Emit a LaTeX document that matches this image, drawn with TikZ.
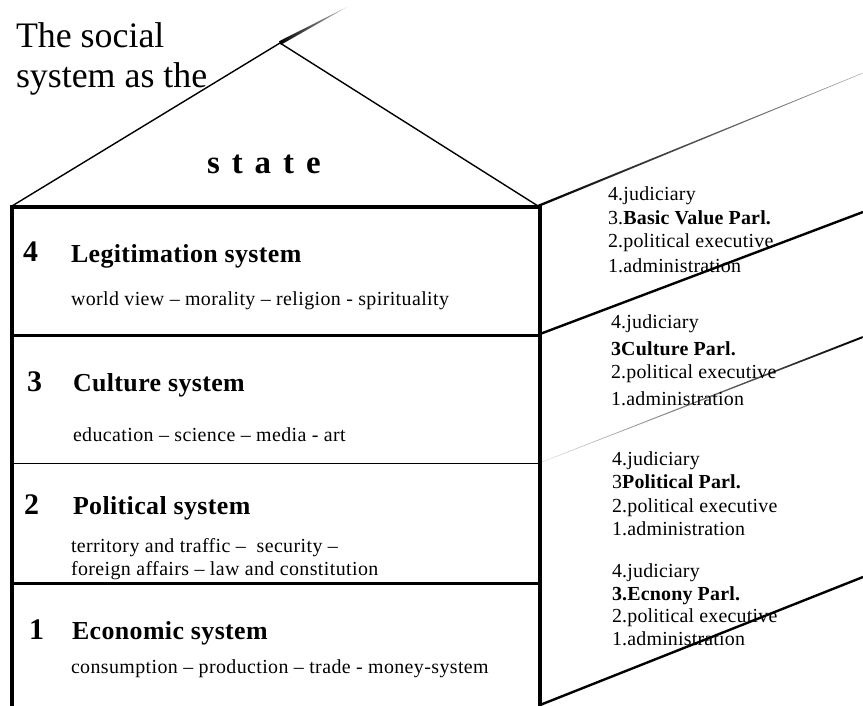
\documentclass[tikz,border=0pt]{standalone}
\usepackage{fontspec}
\setmainfont{Liberation Serif}
\newfontfamily\lsA[LetterSpace=1.5]{Liberation Serif}
\newfontfamily\lsB[LetterSpace=2]{Liberation Serif}
\newfontfamily\lsC[LetterSpace=1]{Liberation Serif}
\begin{document}
\begin{tikzpicture}[x=1bp,y=-1bp,
  every node/.style={inner sep=0pt,outer sep=0pt,anchor=base west},
  titletext/.style={font=\fontsize{36}{40}\selectfont},
  statetext/.style={font=\fontsize{33}{36}\selectfont\bfseries},
  numtext/.style={font=\fontsize{30}{32}\selectfont\bfseries},
  headtext/.style={font=\lsA\fontsize{26}{30}\selectfont\bfseries},
  subtext/.style={font=\lsB\fontsize{20}{22}\selectfont},
  sidetext/.style={font=\lsC\fontsize{20}{22}\selectfont},
  roofline/.style={line width=1.4bp},
  wall/.style={line width=3.5bp,line join=miter},
  heavysep/.style={line width=3bp},
  lightsep/.style={line width=1bp},
  slant/.style={line width=2.4bp}
]
\useasboundingbox (0,0) rectangle (863,706);
% named points
\coordinate (BL) at (12,707);
\coordinate (TL) at (12,207);
\coordinate (TR) at (540,207);
\coordinate (BR) at (540,707);
\coordinate (peak) at (280,43);
\coordinate (eaveL) at (12,206);
\coordinate (eaveR) at (538,206);

% title
\node[titletext] (t1) at (16,48) {The social};
\node[titletext] (t2) at (16,88) {system as the};
\node[statetext] (state) at (207,173) {\spaceskip=12bp\relax s t a t e};

% roof
\draw[roofline] (eaveL) -- (peak) -- (eaveR);
\shade[left color=black,middle color=black,right color=black!25] (280.95,44.76) -- (279.05,41.24) -- (347,7) -- cycle;
\shade[left color=black,middle color=black,right color=black!35] (538.45,207.11) -- (537.55,204.89) -- (862.9,72.8) -- (863.1,73.2) -- cycle;

% box
\draw[wall] (BL) -- (TL) -- (TR) -- (BR);
\coordinate (s43L) at (12,335); \coordinate (s43R) at (540,335);
\coordinate (s32L) at (12,463); \coordinate (s32R) at (540,463);
\coordinate (s21L) at (12,583); \coordinate (s21R) at (540,583);
\draw[heavysep] (s43L) -- (s43R);
\draw[lightsep] (s32L) -- (s32R);
\draw[heavysep] (s21L) -- (s21R);

% right slanted lines
\coordinate (r43a) at (540,334); \coordinate (r43b) at (863,212);
\coordinate (rba) at (540,705); \coordinate (rbb) at (863,577);
\draw[slant] (r43a) -- (r43b);
\draw[slant] (rba) -- (rbb);
\shade[left color=black!15,middle color=black!80,right color=black] (542.07,462.19) -- (541.93,461.81) -- (862.64,336.07) -- (863.36,337.93) -- cycle;

% level 4
\node[numtext] (n4) at (23,261) {4};
\node[headtext] (h4) at (71,262) {Legitimation system};
\node[subtext] (d4) at (71,305) {world view – morality – religion - spirituality};
% level 3
\node[numtext] (n3) at (27,391) {3};
\node[headtext] (h3) at (73,391) {Culture system};
\node[subtext] (d3) at (73,441) {education – science – media - art};
% level 2
\node[numtext] (n2) at (24,514) {2};
\node[headtext] (h2) at (73,514) {Political system};
\node[subtext] (d2a) at (71,552) {territory and traffic –\ \ security –};
\node[subtext] (d2b) at (71,575) {foreign affairs – law and constitution};
% level 1
\node[numtext] (n1) at (29,639) {1};
\node[headtext] (h1) at (72,639) {Economic system};
\node[subtext] (d1) at (71,673) {consumption – production – trade - money-system};

% right blocks
\node[sidetext] (a4) at (608,200) {4.judiciary};
\node[sidetext] (a3) at (608,224) {3.\textbf{Basic Value Parl.}};
\node[sidetext] (a2) at (608,247) {2.political executive};
\node[sidetext] (a1) at (608,272) {1.administration};

\node[sidetext] (b4) at (611,328) {4.judiciary};
\node[sidetext] (b3) at (611,355) {\textbf{3Culture Parl.}};
\node[sidetext] (b2) at (611,378) {2.political executive};
\node[sidetext] (b1) at (611,405) {1.administration};

\node[sidetext] (c4) at (612,465) {4.judiciary};
\node[sidetext] (c3) at (612,488) {3\textbf{Political Parl.}};
\node[sidetext] (c2) at (612,512) {2.political executive};
\node[sidetext] (c1) at (612,535) {1.administration};

\node[sidetext] (e4) at (612,577) {4.judiciary};
\node[sidetext] (e3) at (612,600) {\textbf{3.Ecnony Parl.}};
\node[sidetext] (e2) at (612,622) {2.political executive};
\node[sidetext] (e1) at (612,645) {1.administration};
\end{tikzpicture}
\end{document}
